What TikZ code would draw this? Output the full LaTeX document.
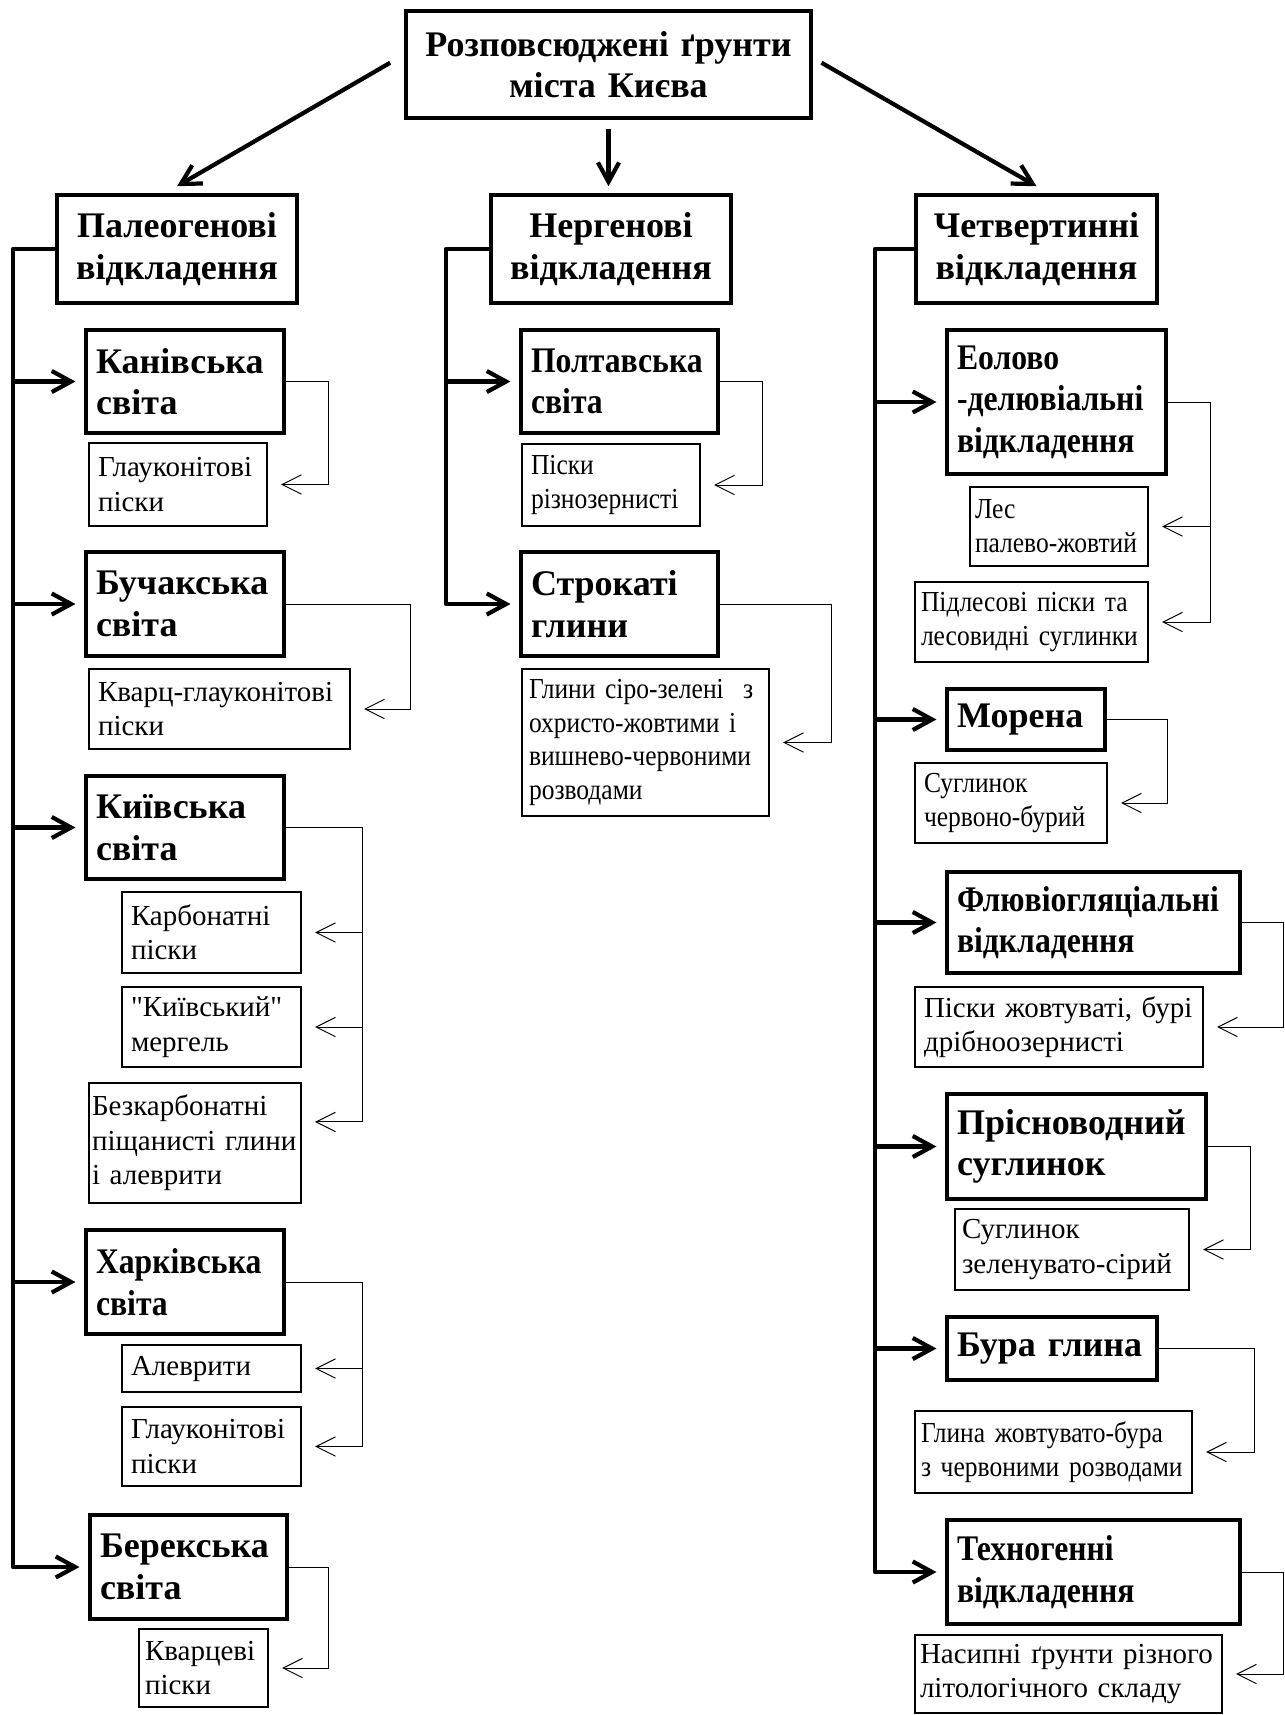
\documentclass[tikz,border=0pt]{standalone}
\usepackage{fontspec}
\setmainfont{Liberation Serif}[Ligatures=TeXOff]
\newfontfamily\narrowserif[FakeStretch=0.88,Ligatures=TeXOff]{Liberation Serif}
\usetikzlibrary{arrows.meta}
\hyphenpenalty=10000
\exhyphenpenalty=10000
\def\boxpad{20}
\tikzset{
  pad/.code={\def\boxpad{#1}},
  wh/.style 2 args={anchor=north west, outer sep=0pt, inner xsep=0pt,
    minimum width=#1*0.02cm, minimum height=#2*0.02cm,
    /utils/exec={\pgfmathsetlengthmacro\boxtw{(#1-\boxpad)*0.02cm}}, text width=\boxtw},
  title/.style={draw, line width=2.4pt, align=center, inner sep=2pt, pad=8, font=\bfseries\fontsize{20.5}{23.6}\selectfont},
  suite/.style={draw, line width=2.7pt, align=left, inner sep=2pt, pad=20, font=\bfseries\fontsize{20.5}{23.6}\selectfont},
  nsuite/.style={suite, font=\narrowserif\bfseries\fontsize{20.5}{23.6}\selectfont},
  soil/.style={draw, line width=0.6pt, align=left, inner sep=2pt, pad=18, font=\fontsize{16.5}{19.6}\selectfont},
  nsoil/.style={soil, font=\narrowserif\fontsize{16.5}{19.2}\selectfont},
  arrow/.style={line width=2.4pt, -{Straight Barb[length=11pt,width=12pt]}, shorten >=6pt},
  trunk/.style={line width=2.7pt, line join=round},
  link/.style={line width=0.55pt, -{Straight Barb[length=11pt,width=11pt]}}
}

\begin{document}
\begin{tikzpicture}[x=0.02cm, y=-0.02cm]
\useasboundingbox (0,0) rectangle (1285,1715);
% top and the three groups
\node[title, wh={405}{107}] (root) at (406,11) {Розповсюджені~ґрунти\\міста~Києва};
\node[title, wh={240}{108}] (paleo) at (57,195) {Палеогенові\\відкладення};
\node[title, wh={240}{108}] (neo) at (491,195) {Нергенові\\відкладення};
\node[title, wh={241}{108}] (quat) at (916,195) {Четвертинні\\відкладення};
\draw[arrow, shorten >=0pt] ([xshift=-9pt,yshift=1pt]root.west) -- ([yshift=5pt]paleo.north);
\draw[arrow, shorten >=0pt] ([yshift=-6pt]root.south) -- ([yshift=5pt]root.south |- neo.north);
\draw[arrow, shorten >=0pt] ([xshift=6pt,yshift=1pt]root.east) -- ([yshift=5pt]quat.north);

% paleogene
\node[suite, wh={198}{103}] (kaniv) at (86,330) {Канівська\\світа};
\node[soil, wh={178}{83}] (glk1) at (89,443) {Глауконітові\\піски};
\node[suite, wh={198}{104}] (buchak) at (86,552) {Бучакська\\світа};
\node[soil, wh={261}{80}] (kvgl) at (89,669) {Кварц-глауконітові\\піски};
\node[suite, wh={198}{103}] (kyiv) at (86,776) {Київська\\світа};
\node[soil, wh={179}{81}] (karb) at (122,892) {Карбонатні\\піски};
\node[soil, wh={179}{80}] (merg) at (122,987) {"Київський"\\мергель};
\node[soil, pad=6, wh={212}{120}] (bezk) at (89,1083) {Безкарбонатні\\піщанисті~глини\\і~алеврити};
\node[nsuite, wh={198}{104}] (kharkiv) at (86,1230) {Харківська\\світа};
\node[soil, wh={179}{47}] (alevr) at (122,1345) {Алеврити};
\node[soil, wh={179}{79}] (glk2) at (122,1407) {Глауконітові\\піски};
\node[suite, wh={197}{104}] (berek) at (90,1515) {Берекська\\світа};
\node[soil, pad=12, wh={129}{78}] (kvarts) at (139,1629) {Кварцеві\\піски};
\draw[trunk, arrow] (paleo.west) -- ++(-44,0) coordinate (pt) |- (berek.west);
\foreach \n in {kaniv,buchak,kyiv,kharkiv} \draw[trunk, arrow] (pt |- \n.west) -- (\n.west);
\draw[link] (kaniv.east) -- ++(44,0) |- ([xshift=8pt]glk1.east);
\draw[link] (buchak.east) -- ++(126,0) |- ([xshift=8pt]kvgl.east);
\draw[link] (kyiv.east) -- ++(78,0) coordinate (kyb) |- ([xshift=8pt,yshift=12pt]bezk.east);
\foreach \n in {karb,merg} \draw[link] (kyb |- \n.east) -- ([xshift=8pt]\n.east);
\draw[link] (kharkiv.east) -- ++(78,0) coordinate (khb) |- ([xshift=8pt]glk2.east);
\draw[link] (khb |- alevr.east) -- ([xshift=8pt]alevr.east);
\draw[link] (berek.east) -- ++(41,0) |- ([xshift=8pt]kvarts.east);

% neogene
\node[nsuite, wh={197}{103}] (poltava) at (521,330) {Полтавська\\світа};
\node[nsoil, wh={178}{82}] (pisky) at (522,444) {Піски\\різнозернисті};
\node[suite, wh={197}{104}] (strok) at (521,552) {Строкаті\\глини};
\node[nsoil, pad=14, wh={247}{147}] (hlyny) at (522,669) {Глини~сіро-зелені~~з\\охристо-жовтими~і\\вишнево-червоними\\розводами};
\draw[trunk, arrow] (neo.west) -- ++(-45,0) coordinate (nt) |- (strok.west);
\draw[trunk, arrow] (nt |- poltava.west) -- (poltava.west);
\draw[link] (poltava.east) -- ++(44,0) |- ([xshift=8pt]pisky.east);
\draw[link] (strok.east) -- ++(113,0) |- ([xshift=8pt]hlyny.east);

% quaternary
\node[nsuite, wh={219}{144}] (eol) at (947,330) {Еолово\\-делювіальні\\відкладення};
\node[nsoil, pad=10, wh={178}{79}] (les) at (970,487) {Лес\\палево-жовтий};
\node[nsoil, pad=12, wh={233}{80}] (pidles) at (915,582) {Підлесові~піски~та\\лесовидні~суглинки};
\node[suite, wh={158}{61}] (moren) at (947,689) {Морена};
\node[nsoil, wh={192}{80}] (sugl1) at (915,763) {Суглинок\\червоно-бурий};
\node[nsuite, wh={293}{101}] (fluv) at (947,872) {Флювіогляціальні\\відкладення};
\node[soil, wh={288}{80}] (piskzh) at (915,987) {Піски~жовтуваті,~бурі\\дрібноозернисті};
\node[suite, wh={259}{105}] (prisn) at (947,1094) {Прісноводний\\суглинок};
\node[soil, pad=14, wh={234}{81}] (sugl2) at (955,1209) {Суглинок\\зеленувато-сірий};
\node[suite, wh={210}{63}] (bura) at (947,1317) {Бура~глина};
\node[nsoil, pad=12, wh={277}{82}] (hlzh) at (915,1411) {Глина~жовтувато-бура\\з~червоними~розводами};
\node[nsuite, wh={293}{104}] (tekhn) at (947,1520) {Техногенні\\відкладення};
\node[soil, pad=10, wh={307}{78}] (nasyp) at (915,1635) {Насипні~ґрунти~різного\\літологічного~складу};
\draw[trunk, arrow] (quat.west) -- ++(-41,0) coordinate (qt) |- (tekhn.west);
\foreach \n in {eol,moren,fluv,prisn,bura} \draw[trunk, arrow] (qt |- \n.west) -- (\n.west);
\draw[link] (eol.east) -- ++(44,0) coordinate (eb) |- ([xshift=8pt]pidles.east);
\draw[link] (eb |- les.east) -- ([xshift=8pt]les.east);
\draw[link] (moren.east) -- ++(62,0) |- ([xshift=8pt]sugl1.east);
\draw[link] (fluv.east) -- ++(43,0) |- ([xshift=8pt]piskzh.east);
\draw[link] (prisn.east) -- ++(44,0) |- ([xshift=8pt]sugl2.east);
\draw[link] (bura.east) -- ++(97,0) |- ([xshift=8pt]hlzh.east);
\draw[link] (tekhn.east) -- ++(43,0) |- ([xshift=8pt]nasyp.east);
\end{tikzpicture}
\end{document}
